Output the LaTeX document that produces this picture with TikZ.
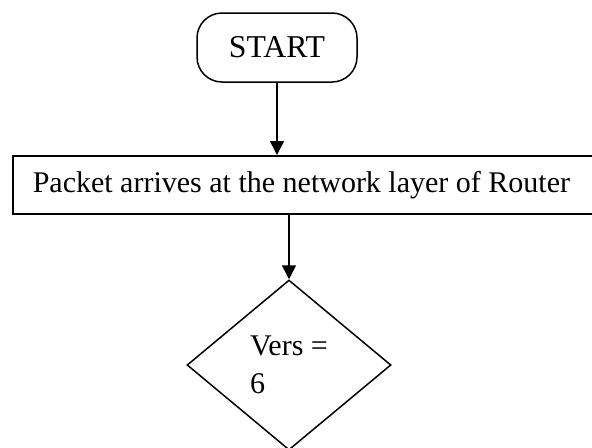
\documentclass[tikz,border=0pt]{standalone}
\usepackage{fontspec}
\setmainfont{Liberation Serif}
\usepackage{tikz}
\usetikzlibrary{shapes.geometric,arrows.meta}

\begin{document}
\begin{tikzpicture}[x=0.4pt, y=-0.4pt,
    every node/.style={font=\fontsize{12}{15.2}\selectfont},
    flowline/.style={black, line width=0.6pt},
    flowarrow/.style={flowline, -{Triangle[length=5.6pt, width=5.6pt]}},
    terminal/.style={draw, line width=0.6pt, rounded corners=10pt,
      font=\fontsize{12.7}{15.2}\selectfont,
      minimum width=64pt, minimum height=27.6pt},
    process/.style={draw, line width=0.6pt, align=flush left, text width=245pt,
      inner xsep=8pt, minimum height=23.2pt},
    decision/.style={draw, diamond, line width=0.6pt, align=left, inner sep=0pt,
      minimum width=81.6pt, minimum height=68pt}]
  % Page size
  \useasboundingbox (0,0) rectangle (592,447);

  % Start terminal
  \node[terminal] (start) at (277,47.5) {START};

  % Packet arrival step (runs off the right edge)
  \node[process, anchor=north west] (arrive) at (12,155)
    {Packet arrives at the network layer of Router};

  % Version check
  \node[decision] (vers) at (289,365) {Vers =\\6};

  % Connectors
  \draw[flowarrow] (start.south) -- (start.south |- arrive.north);
  \draw[flowarrow] (vers.north |- arrive.south) -- (vers.north);
\end{tikzpicture}
\end{document}
